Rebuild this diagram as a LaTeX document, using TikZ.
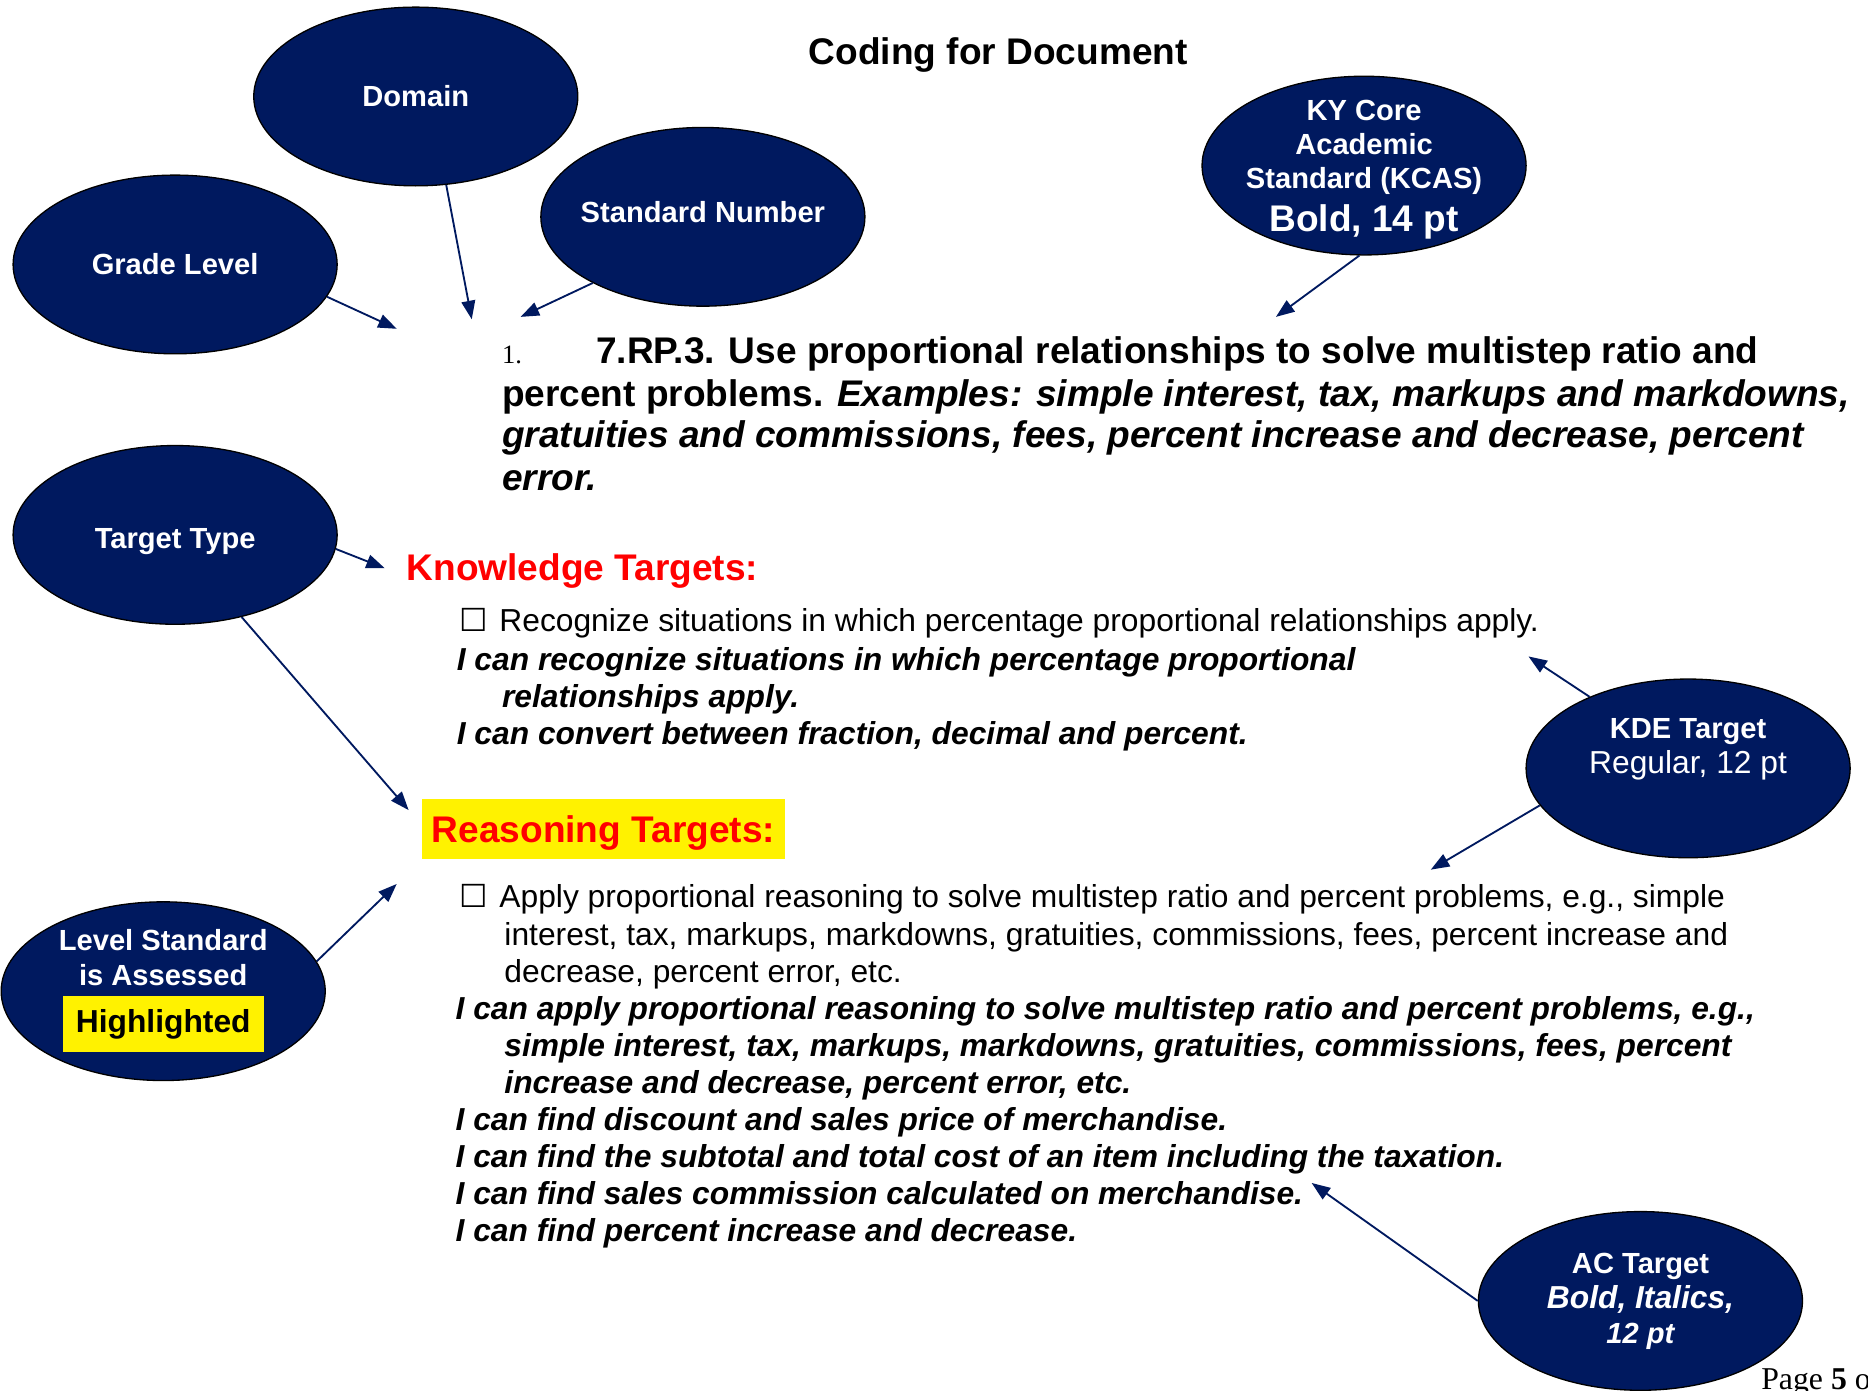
\documentclass[tikz,border=0pt]{standalone}
\usepackage{fontspec}
\setmainfont{Liberation Sans}
\newfontfamily\timesfont{Liberation Serif}
\newfontfamily\boxfont{DejaVu Sans}
\usetikzlibrary{shapes.geometric,arrows.meta}
\definecolor{bubblenavy}{RGB}{0,25,95}
\newcommand{\chkbox}{\makebox[15.2pt][l]{\boxfont\fontsize{12}{14}\selectfont ☐}}

\begin{document}
\begin{tikzpicture}[x=0.45pt,y=-0.45pt,
  bubble/.style={ellipse,draw=black,line width=0.5pt,fill=bubblenavy,text=white,
    minimum width=122.4pt,minimum height=67.5pt,inner sep=-8pt,align=center,
    font=\bfseries\fontsize{11}{13}\selectfont},
  link/.style={draw=bubblenavy,line width=0.7pt,-{Triangle[length=7pt,width=5.2pt]}},
  bodyline/.style={anchor=base west,inner sep=0pt,font=\fontsize{12}{14}\selectfont},
  ican/.style={anchor=base west,inner sep=0pt,font=\bfseries\itshape\fontsize{12}{14}\selectfont},
  stdline/.style={anchor=base west,inner sep=0pt,font=\bfseries\fontsize{14}{16}\selectfont},
  heading/.style={anchor=base west,text=red,font=\bfseries\fontsize{14}{16}\selectfont}]
\useasboundingbox (0,0) rectangle (1568,1167);

\node[anchor=base,inner sep=0pt,font=\bfseries\fontsize{14}{16}\selectfont] (title) at (838,54) {Coding for Document};

\node[bubble] (domain) at (349,81) {Domain};
\node[bubble] (grade) at (147,222) {Grade Level};
\node[bubble,text height=8pt,text depth=3.6pt] (stdnum) at (590,182) {Standard Number};
\node[bubble] (kcas) at (1145,139) {KY Core\\Academic\\Standard (KCAS)\\[3pt]\fontsize{14}{16}\selectfont Bold, 14 pt\\[-13pt]\mbox{}};
\node[bubble,text height=12.5pt,text depth=2.3pt] (ttype) at (147,449) {Target Type};
\node[bubble] (level) at (137,832) {Level Standard\\is Assessed\\[3pt]\fboxsep=5pt\colorbox{yellow}{\color{black}\fontsize{12}{14}\selectfont Highlighted}};
\node[bubble] (kde) at (1417,645) {KDE Target\\\mdseries\fontsize{12}{14}\selectfont Regular, 12 pt\\[4pt]\mbox{}};
\node[bubble] (ac) at (1377,1092) {AC Target\\[0.5pt]\itshape\fontsize{12}{13.6}\selectfont Bold, Italics,\\\itshape 12 pt};

% standard
\node[anchor=base west,inner sep=0pt,font=\timesfont\fontsize{10}{12}\selectfont] (num) at (421,305) {1.};
\node[stdline] (std1) at (500,305) {7.RP.3. Use proportional relationships to solve multistep ratio and};
\node[stdline] (std2) at (421,341) {percent problems. \textit{Examples: simple interest, tax, markups and markdowns,}};
\node[stdline,font=\bfseries\itshape\fontsize{14}{16}\selectfont] (std3) at (421,376) {gratuities and commissions, fees, percent increase and decrease, percent};
\node[stdline,font=\bfseries\itshape\fontsize{14}{16}\selectfont] (std4) at (421,412) {error.};

% knowledge targets
\node[heading,inner sep=0pt] (know) at (341,487) {Knowledge Targets:};
\node[bodyline] (k1) at (385,530) {\chkbox Recognize situations in which percentage proportional relationships apply.};
\node[ican] (k2) at (383,563) {I can recognize situations in which percentage proportional};
\node[ican] (k3) at (421,594) {relationships apply.};
\node[ican] (k4) at (383,625) {I can convert between fraction, decimal and percent.};

% reasoning targets
\node[heading,fill=yellow,inner xsep=3.6pt,inner ysep=0pt,text height=16.3pt,text depth=6.3pt] (reason) at (354,707) {Reasoning Targets:\hspace{3pt}};
\node[bodyline] (r1) at (385,762) {\chkbox Apply proportional reasoning to solve multistep ratio and percent problems, e.g., simple};
\node[bodyline] (r2) at (423,794) {interest, tax, markups, markdowns, gratuities, commissions, fees, percent increase and};
\node[bodyline] (r3) at (423,825) {decrease, percent error, etc.};
\node[ican] (r4) at (382,856) {I can apply proportional reasoning to solve multistep ratio and percent problems, e.g.,};
\node[ican] (r5) at (423,887) {simple interest, tax, markups, markdowns, gratuities, commissions, fees, percent};
\node[ican] (r6) at (423,918) {increase and decrease, percent error, etc.};
\node[ican] (r7) at (382,949) {I can find discount and sales price of merchandise.};
\node[ican] (r8) at (382,980) {I can find the subtotal and total cost of an item including the taxation.};
\node[ican] (r9) at (382,1011) {I can find sales commission calculated on merchandise.};
\node[ican] (r10) at (382,1042) {I can find percent increase and decrease.};

\node[anchor=base west,inner sep=0pt,font=\timesfont\fontsize{12}{14}\selectfont] (page) at (1478,1166) {Page \textbf{5} o};

% arrows
\coordinate (gradetip) at (333,276);
\coordinate (domaintip) at (396,268);
\coordinate (stdtip) at (437,266);
\coordinate (kcastip) at (1071,266);
\coordinate (knowtip) at (323,477);
\coordinate (reasontip) at (343,680);
\coordinate (leveltip) at (333,742);
\coordinate (kdetopa) at (1283,551);
\coordinate (kdetopb) at (1201,730);
\coordinate (actip) at (1101,993);

\draw[link] (grade.-12) -- (gradetip);
\draw[link] (domain.-71) -- (domaintip);
\draw[link] (stdnum.211) -- (stdtip);
\draw[link] (kcas.-93) -- (kcastip);
\draw[link] (ttype.-5) -- (knowtip);
\draw[link] (ttype.-51) -- (reasontip);
\draw[link] (level.11) -- (leveltip);
\draw[link] (kde.144) -- (kdetopa);
\draw[link] (kde.194) -- (kdetopb);
\draw[link] (ac.180) -- (actip);
\end{tikzpicture}
\end{document}
